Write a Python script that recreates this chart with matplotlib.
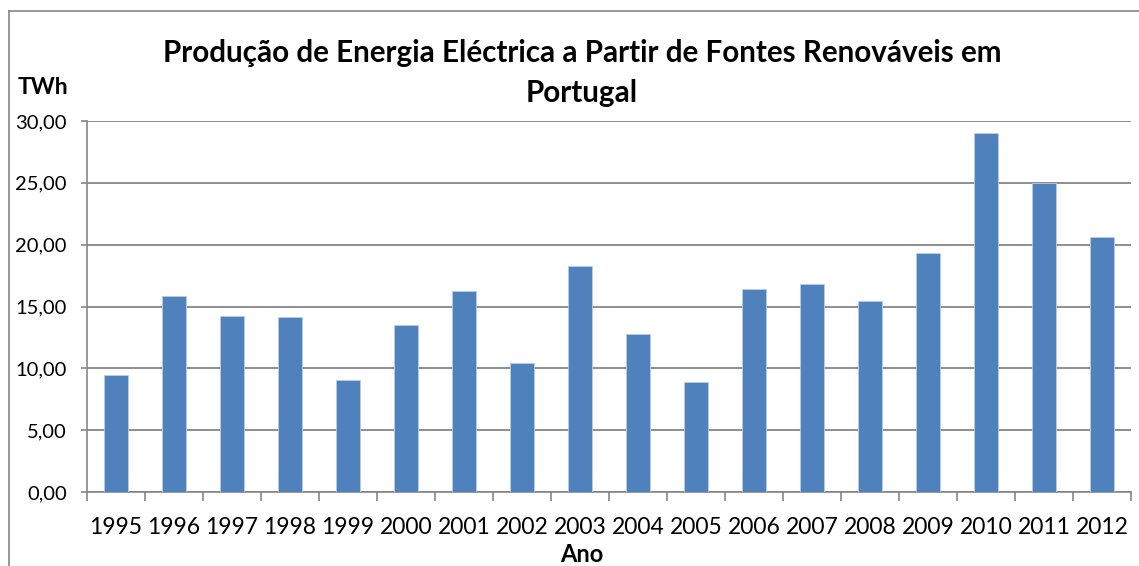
# -*- coding: utf-8 -*-
import matplotlib
matplotlib.use('Agg')
from matplotlib import pyplot as plt
from matplotlib.lines import Line2D
import numpy as np

# data
years = ['1995', '1996', '1997', '1998', '1999', '2000', '2001', '2002', '2003',
         '2004', '2005', '2006', '2007', '2008', '2009', '2010', '2011', '2012']
twh = [9.46, 15.85, 14.23, 14.15, 9.05, 13.50, 16.25, 10.43, 18.27,
       12.77, 8.89, 16.41, 16.81, 15.44, 19.32, 29.02, 24.98, 20.61]
yticks = [0, 5, 10, 15, 20, 25, 30]
ytick_labels = ['0,00', '5,00', '10,00', '15,00', '20,00', '25,00', '30,00']

plt.rcParams['font.family'] = ['Lato', 'DejaVu Sans']

W, H = 1139, 566
fig = plt.figure(figsize=(W / 100, H / 100), dpi=100)
ax = fig.add_axes([87 / W, 1 - 492 / H, (1131 - 87) / W, (492 - 121) / H])

x = np.arange(len(years))
ax.bar(x, twh, width=0.4, color='#4F81BD', edgecolor='#B9CDE5', linewidth=0.6, zorder=3)

# axis limits
ax.set_xlim(-0.5, len(years) - 0.5)
ax.set_ylim(0, 30)

# grid lines
ax.set_yticks(yticks)
ax.set_yticklabels(ytick_labels, fontsize=14.5)
ax.yaxis.grid(True, color='#868686', linewidth=1.3, zorder=0)

ax.set_xticks(x)
ax.set_xticklabels(years, fontsize=16.5)
ax.set_xticks(np.arange(-0.5, len(years)), minor=True)
ax.tick_params(axis='x', which='major', length=0, pad=18)
ax.tick_params(axis='x', which='minor', length=6.5, width=1.2, color='#868686')
ax.tick_params(axis='y', length=4.5, width=1.2, color='#868686', pad=10)

for side in ['top', 'right']:
    ax.spines[side].set_visible(False)
for side in ['left', 'bottom']:
    ax.spines[side].set_color('#868686')
    ax.spines[side].set_linewidth(1.2)

# titles
fig.text(582 / W, 1 - 53 / H, 'Produção de Energia Eléctrica a Partir de Fontes Renováveis em',
         ha='center', va='center', fontsize=21.3, fontweight='bold')
fig.text(582 / W, 1 - 93 / H, 'Portugal', ha='center', va='center',
         fontsize=21.3, fontweight='bold')
fig.text(18 / W, 1 - 88 / H, 'TWh', ha='left', va='center', fontsize=16.5, fontweight='bold')
fig.text(582 / W, 1 - 555 / H, 'Ano', ha='center', va='center', fontsize=17, fontweight='bold')

# outer frame (left and top)
fig.add_artist(Line2D([8.5 / W, 8.5 / W], [0, 1 - 10.5 / H], transform=fig.transFigure,
                      color='#868686', linewidth=1.2))
fig.add_artist(Line2D([8.5 / W, 1], [1 - 10.5 / H, 1 - 10.5 / H], transform=fig.transFigure,
                      color='#868686', linewidth=1.2))

plt.savefig('out.png', dpi=100)
